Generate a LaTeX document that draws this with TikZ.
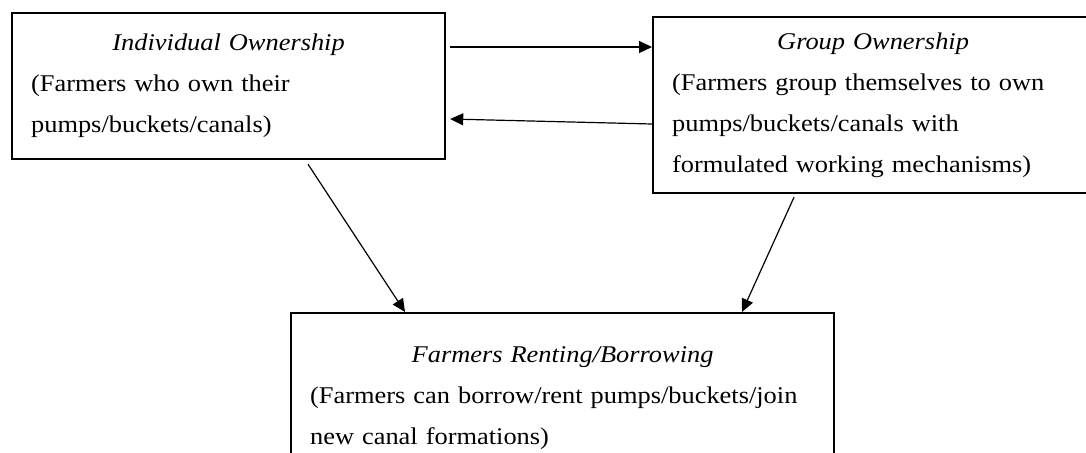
\documentclass[tikz,border=0pt]{standalone}
\usepackage{fontspec}
\setmainfont{Liberation Serif}[FakeStretch=1.1, WordSpace=0.75]
\usetikzlibrary{arrows.meta}

\begin{document}
\begin{tikzpicture}[x=0.5pt,y=0.5pt,
  box/.style={draw, line width=1.1pt, anchor=north west, inner xsep=9.5pt, inner ysep=0pt, align=left, font=\fontsize{12}{20.5}\selectfont},
  arr/.style={line width=0.6pt, -{Triangle[length=6.5pt,width=6pt]}}]
\useasboundingbox (0,0) rectangle (1086,452);
\clip (0,0) rectangle (1086,452);
% the three kinds of ownership
\node [box, text width=197.5pt, minimum height=73pt] (ind) at (11,440) {{\centering\itshape Individual Ownership\par}(Farmers who own their\\pumps/buckets/canals)};
\node [box, text width=201pt, minimum height=88pt] (grp) at (652,436) {{\centering\itshape Group Ownership\par}(Farmers group themselves to own\\pumps/buckets/canals with\\formulated working mechanisms)};
\node [box, text width=252.5pt, minimum height=85pt] (ren) at (290,140) {{\centering\itshape Farmers Renting/Borrowing\par}(Farmers can borrow/rent pumps/buckets/join\\new canal formations)};
% arrows
\draw [arr] ([shift={(4,-35)}]ind.north east) coordinate (a) -- (a -| grp.west);
\draw [arr] ([shift={(0,-108)}]grp.north west) -- ([shift={(4,-107)}]ind.north east);
\draw [arr] ([shift={(297,-4)}]ind.south west) -- ([shift={(115,0)}]ren.north west);
\draw [arr] ([shift={(142,-3)}]grp.south west) -- ([shift={(452,0)}]ren.north west);
\end{tikzpicture}
\end{document}
